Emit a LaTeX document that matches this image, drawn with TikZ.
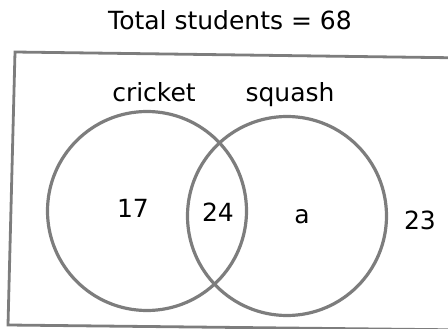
\documentclass[tikz,border=0pt]{standalone}
\usepackage{fontspec}
\setmainfont{DejaVu Sans}
\usetikzlibrary{positioning}
\definecolor{venngray}{RGB}{125,125,125}
\tikzset{
  set circle/.style={circle, draw=venngray, line width=3.2pt, minimum size=199pt, inner sep=0pt},
  frame/.style={draw=venngray, line width=2.8pt},
  label text/.style={font=\fontsize{25}{29}\selectfont, inner sep=0pt},
}

\begin{document}
\begin{tikzpicture}[x=1pt, y=-1pt]
  \useasboundingbox (0,0) rectangle (448,329);
  \clip (0,0) rectangle (448,329);

  % Universal set (slightly skewed frame)
  \draw[frame] (15,52) -- (470,58) -- (470,330) -- (8,325) -- cycle;

  % Sets
  \node[set circle] (cricket) at (147,211) {};
  \node[set circle] (squash) at (287,216) {};

  % Set names
  \node[label text] (cricketname) at (154,92) {cricket};
  \node[label text] (squashname) at (290,95) {squash};

  % Region counts
  \node[label text] (onlycricket) at (133,208) {17};
  \node[label text] (both) at (218,212) {24};
  \node[label text] (onlysquash) at (302,217) {a};
  \node[label text] (neither) at (420,220) {23};

  % Title
  \node[label text] (total) at (230,20) {Total students = 68};
\end{tikzpicture}
\end{document}
